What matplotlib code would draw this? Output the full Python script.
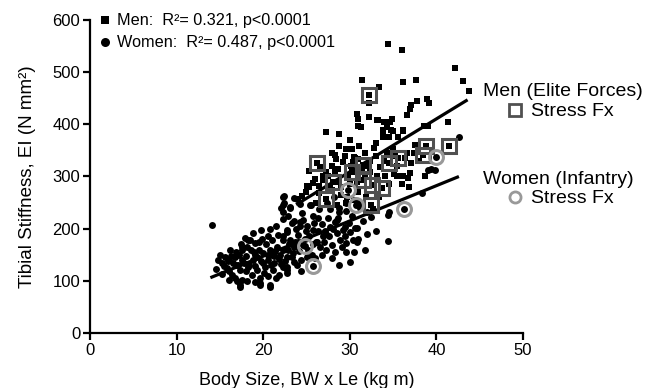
import numpy as np
import matplotlib
matplotlib.use("Agg")
import matplotlib.pyplot as plt
from matplotlib.lines import Line2D

plt.rcParams['font.family'] = ['Liberation Sans', 'DejaVu Sans']

# men (elite forces), body size vs tibial stiffness
men_x = [34.4, 36.0, 42.2, 43.1, 43.8, 31.4, 33.4, 36.2, 37.6, 30.8, 30.9, 31.3, 32.2, 33.1,
         33.9, 34.3, 33.8, 34.7, 33.8, 34.5, 36.1, 36.9, 37.1, 37.8, 38.9, 39.1, 36.6, 39.0,
         41.3, 37.4, 36.6, 34.3, 35.0, 35.4, 36.1, 36.7, 36.0, 35.1, 32.2, 31.0, 27.2, 28.8,
         28.8, 28.3, 28.4, 30.2, 31.1, 31.7, 30.6, 25.3, 28.0, 29.2, 30.4, 25.7, 26.9, 25.3,
         28.3, 27.7, 26.1, 32.3, 33.1, 26.4, 25.1, 26.9, 31.9, 33.4, 32.7, 29.6, 30.5, 30.9,
         28.0, 27.3, 29.8, 29.0, 31.0, 34.0, 35.5, 37.5, 38.0, 33.0, 32.0, 24.5, 26.5, 28.8,
         30.0, 31.8, 34.5, 38.6, 35.0, 36.1, 33.8, 33.2, 34.6, 29.6, 28.5, 24.0,
         27.5, 28.6, 29.5, 30.1, 30.8, 31.4, 32.3, 32.8, 33.5, 34.1, 35.2, 36.4, 37.1, 29.0,
         29.7, 30.5, 31.2, 26.0, 27.9, 30.0, 33.0, 34.9, 35.6, 24.9, 26.6, 37.0, 38.7, 36.8]
men_y = [554, 542, 508, 483, 463, 485, 471, 481, 485, 419, 411, 394, 415, 408,
         404, 394, 390, 390, 375, 375, 390, 429, 438, 444, 448, 440, 417, 396,
         404, 346, 346, 346, 352, 300, 300, 298, 285, 304, 440, 396, 385, 381,
         358, 342, 333, 352, 358, 346, 336, 311, 321, 327, 327, 288, 294, 279,
         308, 279, 250, 308, 300, 281, 281, 300, 260, 260, 237, 352, 338, 333,
         275, 308, 300, 265, 270, 330, 320, 360, 330, 340, 320, 262, 268, 290,
         285, 300, 285, 396, 387, 388, 385, 409, 404, 250, 245, 256,
         300, 315, 340, 320, 290, 310, 330, 355, 318, 300, 340, 335, 325, 280,
         260, 255, 250, 295, 345, 370, 365, 410, 375, 270, 318, 307, 300, 280]

# women (infantry)
women_x = [14.1, 17.9, 19.8, 20.8, 18.5, 18.1, 17.5, 16.1, 16.9, 16.7, 17.3, 19.6, 20.8, 34.4,
           34.4, 38.3, 39.8, 39.4, 39.0, 42.6, 34.5, 22.3, 22.3, 22.3, 22.3, 18.8, 18.2, 19.0,
           17.6, 16.9, 15.9, 16.5, 17.1, 17.6, 17.3, 17.6, 17.3, 19.6, 20.8, 19.3, 20.0, 20.8,
           21.6, 22.3, 20.5, 21.3, 20.2, 21.1, 22.3, 22.7, 19.3, 18.7, 19.6, 18.2, 21.7, 21.0,
           22.7, 22.4, 23.6, 22.4, 23.1, 23.9, 25.7, 24.6, 24.3, 22.7, 22.3, 23.1, 24.0, 25.7,
           26.8, 27.7, 28.3, 28.6, 29.4, 30.0, 30.8, 30.8, 29.6, 28.0, 27.3, 28.3, 29.6, 27.9,
           26.0, 25.1, 23.6, 22.8, 22.7, 30.0, 26.5, 27.7, 28.8, 29.6, 28.5, 26.9, 24.6, 23.6,
           22.3, 22.7, 23.4, 15.0, 15.5, 16.0, 18.0, 18.8, 19.5, 20.3, 21.0, 21.8, 23.0, 24.0,
           24.8, 25.2, 25.8, 26.3, 27.0, 23.8, 24.5, 25.0, 20.5, 21.5, 18.0, 15.3, 14.6, 16.3,
           27.5, 25.5, 29.5, 31.5, 32.5, 31.0, 33.0, 31.7, 32.0, 28.8, 30.5, 30.6, 30.4, 23.1,
           25.4, 28.5, 28.8, 29.6, 29.2, 19.0, 20.0, 21.2, 24.2, 26.2, 27.2, 17.0, 19.9, 23.3,
           15.2, 15.8, 16.4, 16.8, 17.2, 17.8, 18.4, 18.9, 19.1, 19.7, 20.1, 20.6, 20.9, 21.4,
           21.9, 22.0, 22.5, 22.9, 23.3, 23.7, 24.1, 24.4, 24.9, 25.3, 25.6, 26.1, 26.6, 27.1,
           27.6, 28.1, 28.9, 29.1, 29.9, 30.3, 26.3, 25.9, 23.5, 22.9, 21.5, 20.6, 19.5, 18.6,
           17.4, 16.2, 15.6, 14.8, 16.0, 18.1, 19.0, 21.8, 23.9, 24.4, 26.8, 31.2, 32.0, 27.4,
           28.2, 24.2, 22.0]
women_y = [207, 183, 198, 200, 179, 165, 160, 140, 131, 106, 92, 96, 92, 177,
           227, 269, 312, 315, 313, 375, 231, 260, 246, 231, 219, 192, 179, 173,
           165, 156, 138, 135, 131, 140, 121, 102, 88, 92, 88, 146, 154, 160,
           165, 179, 140, 135, 127, 121, 127, 115, 121, 112, 106, 127, 188, 179,
           194, 262, 258, 250, 242, 256, 225, 217, 212, 198, 185, 179, 188, 198,
           208, 204, 213, 221, 204, 194, 202, 175, 173, 169, 160, 156, 156, 144,
           144, 146, 137, 127, 121, 137, 237, 237, 240, 233, 192, 185, 169, 165,
           160, 146, 154, 150, 128, 118, 148, 140, 160, 170, 150, 142, 170, 175,
           180, 160, 170, 195, 175, 200, 230, 205, 110, 105, 118, 113, 122, 148,
           220, 245, 185, 215, 222, 180, 195, 160, 190, 130, 155, 202, 179, 240,
           246, 217, 231, 250, 198, 150, 135, 148, 205, 175, 190, 100, 180, 210,
           135, 125, 112, 145, 150, 135, 130, 155, 128, 138, 115, 150, 130, 158,
           150, 132, 138, 160, 145, 175, 158, 140, 195, 185, 150, 175, 165, 195,
           185, 200, 178, 165, 210, 225, 220, 210, 215, 225, 205, 185, 175, 160,
           170, 160, 145, 140, 102, 100, 98, 112, 130, 118, 150, 240, 232, 250,
           260, 248, 240]

# stress fracture cases
men_fx_x = [26.2, 32.2, 27.3, 28.1, 30.3, 31.5, 31.5, 32.6, 33.7, 32.5, 34.5, 35.6, 38.4, 38.8, 41.5]
men_fx_y = [325, 456, 256, 290, 308, 323, 294, 283, 277, 246, 325, 336, 342, 358, 358]
women_fx_x = [25.7, 24.8, 29.8, 30.7, 36.3, 39.9]
women_fx_y = [129, 167, 275, 246, 237, 338]

# regression lines (end points)
men_fit_x = [23.8, 43.6]
men_fit_y = [246, 447]
women_fit_x = [13.9, 42.6]
women_fit_y = [106, 300]

W, H = 649, 388
fig = plt.figure(figsize=(W / 100, H / 100), dpi=100)
ax = fig.add_axes([90 / W, 1 - 333 / H, (523 - 90) / W, (333 - 20) / H])

ax.plot(women_x, women_y, 'o', color='black', markersize=5, mew=0, zorder=3)
ax.plot(men_x, men_y, 's', color='black', markersize=4.4, mew=0, zorder=3)
ax.plot(men_fit_x, men_fit_y, '-', color='black', lw=2.3, zorder=4, solid_capstyle='butt')
ax.plot(women_fit_x, women_fit_y, '-', color='black', lw=2.3, zorder=4, solid_capstyle='butt')

ax.plot(men_fx_x, men_fx_y, 's', color='black', markersize=4.4, mew=0, zorder=5)
ax.plot(men_fx_x, men_fx_y, 's', mfc='none', mec='#505050', markersize=9.5, mew=2.2, zorder=5)
ax.plot(women_fx_x, women_fx_y, 'o', color='black', markersize=5, mew=0, zorder=5)
ax.plot(women_fx_x, women_fx_y, 'o', mfc='none', mec='#999999', markersize=10, mew=2.2, zorder=5)

ax.set_xlim(0, 50)
ax.set_ylim(0, 600)
ax.set_xticks([0, 10, 20, 30, 40, 50])
ax.set_yticks([0, 100, 200, 300, 400, 500, 600])
for s in ['top', 'right']:
    ax.spines[s].set_visible(False)
for s in ['left', 'bottom']:
    ax.spines[s].set_linewidth(1.6)
ax.tick_params(direction='out', length=5, width=1.6, labelsize=12, pad=2)
ax.set_xlabel('Body Size, BW x Le (kg m)', fontsize=13, labelpad=10)
ax.set_ylabel('Tibial Stiffness, EI (N mm²)', fontsize=13.5, labelpad=12)

# legend, top-left
def fx(px):
    return px / W

def fy(py):
    return 1 - py / H

fig.add_artist(Line2D([fx(105)], [fy(20)], marker='s', color='black', markersize=6, mew=0))
fig.add_artist(Line2D([fx(105)], [fy(42)], marker='o', color='black', markersize=6.5, mew=0))
fig.text(fx(117), fy(20), 'Men:  R²= 0.321, p<0.0001', fontsize=11.7, va='center')
fig.text(fx(117), fy(42), 'Women:  R²= 0.487, p<0.0001', fontsize=11.7, va='center')

# legend, right
fig.text(fx(483), fy(92), 'Men (Elite Forces)', fontsize=14, va='center')
fig.add_artist(Line2D([fx(515)], [fy(110)], marker='s', mfc='none', mec='#505050', markersize=8, mew=2))
fig.text(fx(531), fy(112), 'Stress Fx', fontsize=14, va='center')
fig.text(fx(483), fy(179), 'Women (Infantry)', fontsize=14, va='center')
fig.add_artist(Line2D([fx(515)], [fy(197)], marker='o', mfc='none', mec='#999999', markersize=8, mew=2))
fig.text(fx(531), fy(199), 'Stress Fx', fontsize=14, va='center')

fig.savefig('out.png', dpi=100)
